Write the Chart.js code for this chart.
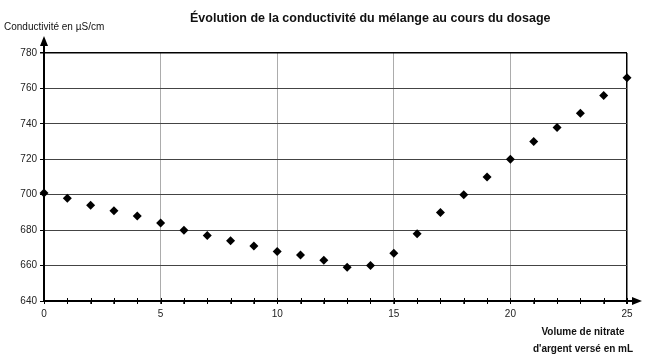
<!DOCTYPE html>
<html><head><meta charset="utf-8">
<script src="https://cdn.jsdelivr.net/npm/chart.js@4/dist/chart.umd.min.js"></script>
<style>
html,body{margin:0;padding:0;background:#fff;}
#wrap{position:relative;width:649px;height:357px;font-family:"Liberation Sans",Arial,sans-serif;color:#111;}
canvas{position:absolute;left:0;top:0;}
.t{position:absolute;white-space:nowrap;}
</style></head>
<body><div id="wrap">
<canvas id="c" width="649" height="357"></canvas>
<div class="t" id="title" style="left:190px;top:11px;font-size:12.5px;font-weight:bold;">Évolution de la conductivité du mélange au cours du dosage</div>
<div class="t" id="ytitle" style="left:4px;top:21px;font-size:10px;">Conductivité en µS/cm</div>
<div class="t" id="xtitle" style="left:520px;top:323px;width:126px;text-align:center;font-size:10px;font-weight:bold;line-height:17px;">Volume de nitrate<br>d'argent versé en mL</div>
</div>
<script>
const volumes = [0,1,2,3,4,5,6,7,8,9,10,11,12,13,14,15,16,17,18,19,20,21,22,23,24,25];
const conductivity = [701,698,694,691,688,684,680,677,674,671,668,666,663,659,660,667,678,690,700,710,720,730,738,746,756,766];
const yTicks = [640,660,680,700,720,740,760,780];
const xTickLabels = [0,5,10,15,20,25];

const arrows = {
  id:'arrows',
  afterDraw(chart){
    const {ctx, chartArea:a} = chart;
    ctx.save();
    ctx.fillStyle='#000'; ctx.strokeStyle='#000'; ctx.lineWidth=2;
    ctx.beginPath(); ctx.moveTo(a.left, a.top); ctx.lineTo(a.left, a.top-8); ctx.stroke();
    ctx.beginPath(); ctx.moveTo(a.left, a.top-17); ctx.lineTo(a.left-4, a.top-7); ctx.lineTo(a.left+4, a.top-7); ctx.closePath(); ctx.fill();
    ctx.beginPath(); ctx.moveTo(a.right, a.bottom); ctx.lineTo(a.right+6, a.bottom); ctx.stroke();
    ctx.beginPath(); ctx.moveTo(a.right+15, a.bottom); ctx.lineTo(a.right+5, a.bottom-4); ctx.lineTo(a.right+5, a.bottom+4); ctx.closePath(); ctx.fill();
    const xs = chart.scales.x;
    ctx.lineWidth=1;
    volumes.forEach(v=>{ const px = Math.round(xs.getPixelForValue(v))+0.5; ctx.beginPath(); ctx.moveTo(px,a.bottom-3); ctx.lineTo(px,a.bottom+3); ctx.stroke(); });
    ctx.restore();
  }
};

new Chart(document.getElementById('c'), {
  type:'scatter',
  data:{ datasets:[{ data: volumes.map((v,i)=>({x:v,y:conductivity[i]})), pointStyle:'rectRot', pointRadius:4.5, pointHoverRadius:4.5, backgroundColor:'#000', borderColor:'#000', borderWidth:0, clip:false }]},
  options:{
    responsive:false, animation:false, devicePixelRatio:1,
    layout:{ padding:{ left:0, right:22, top:53, bottom:36 } },
    plugins:{ legend:{display:false}, title:{display:false}, tooltip:{enabled:false} },
    scales:{
      x:{ type:'linear', min:0, max:25,
        afterFit(s){ s.height = 20; },
        afterBuildTicks(s){ s.ticks = volumes.map(v=>({value:v})); },
        ticks:{ autoSkip:false, maxRotation:0, padding:4, color:'#222', font:{family:'Liberation Sans', size:10},
          callback:(v)=> xTickLabels.includes(v) ? String(v) : '' },
        grid:{ color:(c)=> (c.tick && xTickLabels.includes(c.tick.value)) ? (c.tick.value===25 ? '#000' : '#888') : 'rgba(0,0,0,0)', lineWidth:(c)=> (c.tick && c.tick.value===25) ? 1.5 : 0.7, tickLength:3, tickColor:'#000' },
        border:{ color:'#000', width:2 }
      },
      y:{ type:'linear', min:640, max:780,
        afterFit(s){ s.width = 44; },
        afterBuildTicks(s){ s.ticks = yTicks.map(v=>({value:v})); },
        ticks:{ padding:3, color:'#222', font:{family:'Liberation Sans', size:10} },
        grid:{ color:(c)=> (c.tick && c.tick.value===780) ? '#000' : '#444', lineWidth:(c)=> (c.tick && c.tick.value===780) ? 1.5 : 1, tickLength:4, tickColor:'#000' },
        border:{ color:'#000', width:2 }
      }
    }
  },
  plugins:[arrows]
});
</script>
</body></html>
